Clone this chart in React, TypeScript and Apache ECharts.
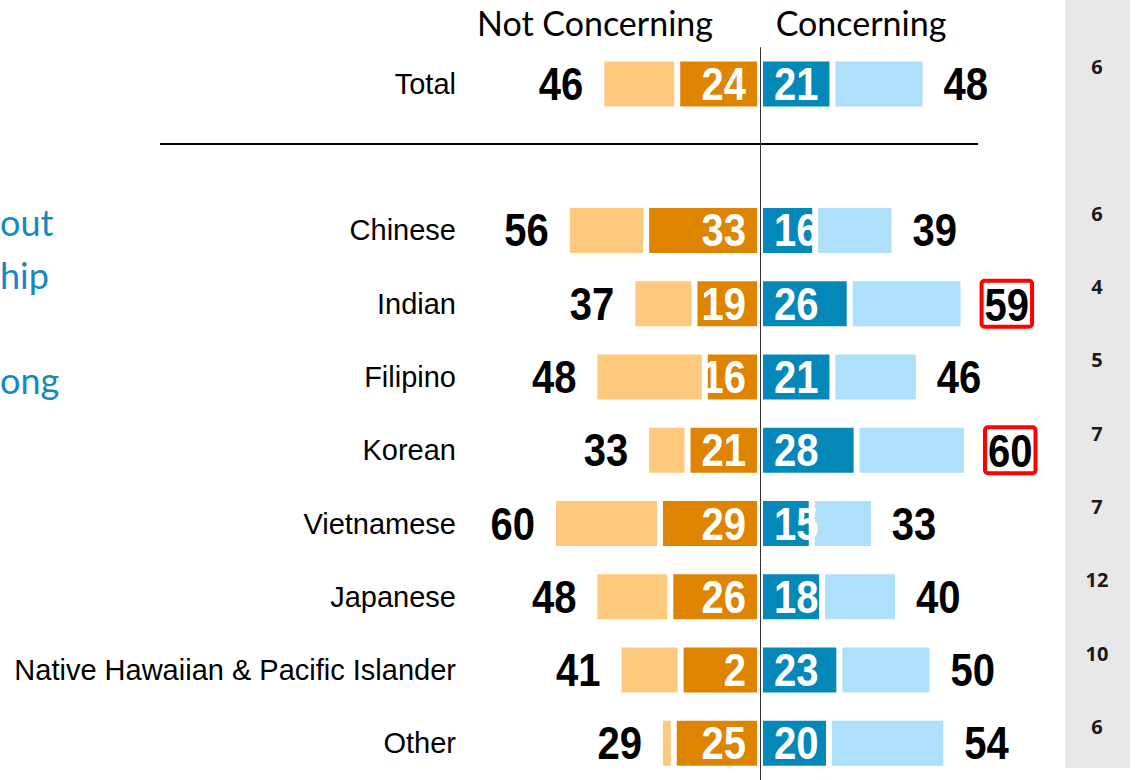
import React, { useEffect, useRef } from 'react';
import * as echarts from 'echarts';

const categories = ['Total', '', 'Chinese', 'Indian', 'Filipino', 'Korean', 'Vietnamese', 'Japanese', 'Native Hawaiian & Pacific Islander', 'Other'];
const notConcerningTotal = [46, null, 56, 37, 48, 33, 60, 48, 41, 29];
const notConcerningStrong = [24, null, 33, 19, 16, 21, 29, 26, 23, 25];
const notConcerningStrongLabels = ['24', '', '33', '19', '16', '21', '29', '26', '2', '25'];
const concerningStrong = [21, null, 16, 26, 21, 28, 15, 18, 23, 20];
const concerningTotal = [48, null, 39, 59, 46, 60, 33, 40, 50, 54];
const highlighted = [false, false, false, true, false, true, false, false, false, false];
const otherShare = ['6', '', '6', '4', '5', '7', '7', '12', '10', '6'];
const headers = ['Not Concerning', 'Concerning'];
const sideText = ['out', 'hip', 'ong'];

const NUM_SIZE = 46;
const NUM_FONT = `bold ${NUM_SIZE}px 'Liberation Sans', Arial, sans-serif`;
const NUM_SCALE = 0.87;
const CAT_FONT = "'Liberation Sans', Arial, sans-serif";
const SOFT_FONT = "Lato, 'Open Sans', sans-serif";

const C_LIGHT_OR = '#FEC97C';
const C_DARK_OR = '#DE8400';
const C_DARK_BL = '#0487B9';
const C_LIGHT_BL = '#AEDFFB';

export default function App() {
  const ref = useRef<HTMLDivElement>(null);

  useEffect(() => {
    if (!ref.current) return;
    const chart = echarts.init(ref.current, null, { renderer: 'svg' });

    const darkOr = notConcerningStrong.map((v) => (v == null ? null : -v));
    const lightOr = notConcerningTotal.map((t, i) => {
      const s = notConcerningStrong[i];
      return t == null || s == null ? null : -(t - s);
    });
    const darkBl = concerningStrong.map((v) => v);
    const lightBl = concerningTotal.map((t, i) => {
      const s = concerningStrong[i];
      return t == null || s == null ? null : t - s;
    });

    // rows for the label layer: [categoryIndex, notTotal, notStrong, conStrong, conTotal]
    const labelRows: number[][] = [];
    categories.forEach((_, i) => {
      if (notConcerningTotal[i] == null) return;
      labelRows.push([i, notConcerningTotal[i] as number, notConcerningStrong[i] as number, concerningStrong[i] as number, concerningTotal[i] as number]);
    });

    const numText = (x: number, y: number, text: string, align: string, fill: string) => ({
      type: 'text',
      x,
      y,
      scaleX: NUM_SCALE,
      style: { text, font: NUM_FONT, fill, align, verticalAlign: 'middle' },
    });

    const digitW = 0.556 * NUM_SIZE * NUM_SCALE;

    const renderLabels = (params: any, api: any) => {
      const i = api.value(0);
      const totN = api.value(1);
      const totC = api.value(4);
      const c0 = api.coord([0, i]);
      const cl = api.coord([-totN, i]);
      const cr = api.coord([totC, i]);
      const y = c0[1];
      const children: any[] = [];
      children.push(numText(cl[0] - 18, y, String(notConcerningTotal[i]), 'right', '#000'));
      children.push(numText(c0[0] - 14, y, notConcerningStrongLabels[i], 'right', '#fff'));
      children.push(numText(c0[0] + 14, y, String(concerningStrong[i]), 'left', '#fff'));
      const rt = String(concerningTotal[i]);
      if (highlighted[i]) {
        const tx = cr[0] + 21;
        const tw = digitW * rt.length;
        children.push({
          type: 'rect',
          shape: { x: tx - 3, y: y - 23, width: tw + 6, height: 46, r: 3 },
          style: { fill: '#fff', stroke: '#FF0000', lineWidth: 4 },
        });
        children.push(numText(tx, y + 1, rt, 'left', '#000'));
      } else {
        children.push(numText(cr[0] + 18, y, rt, 'left', '#000'));
      }
      children.push({
        type: 'text',
        x: 1097,
        y: y - 17,
        style: {
          text: otherShare[i],
          font: "bold 20px 'Open Sans', sans-serif",
          fill: '#1a1a1a',
          align: 'center',
          verticalAlign: 'middle',
        },
      });
      return { type: 'group', children };
    };

    const itemBorder = { borderColor: '#ffffff', borderWidth: 3 };

    const option: any = {
      animation: false,
      grid: { left: 518.5, width: 483, top: 47.25, height: 735 },
      xAxis: { type: 'value', min: -70, max: 70, show: false },
      yAxis: {
        type: 'category',
        data: categories,
        inverse: true,
        axisLine: { show: false },
        axisTick: { show: false },
        axisLabel: { margin: 62.5, fontSize: 29, color: '#000', fontFamily: CAT_FONT },
      },
      graphic: [
        { type: 'rect', z: -10, shape: { x: 1065, y: 0, width: 65, height: 768 }, style: { fill: '#E8E8E8' } },
        { type: 'line', shape: { x1: 160, y1: 144, x2: 978, y2: 144 }, style: { stroke: '#000', lineWidth: 2 } },
        { type: 'text', x: 595, y: 22, style: { text: headers[0], font: `34px ${SOFT_FONT}`, fill: '#000', textAlign: 'center', textVerticalAlign: 'middle' } },
        { type: 'text', x: 861, y: 22, style: { text: headers[1], font: `34px ${SOFT_FONT}`, fill: '#000', textAlign: 'center', textVerticalAlign: 'middle' } },
        { type: 'text', x: 0, y: 222, style: { text: sideText[0], font: `36px ${SOFT_FONT}`, fill: '#1689BD', textAlign: 'left', textVerticalAlign: 'middle' } },
        { type: 'text', x: 0, y: 275, style: { text: sideText[1], font: `36px ${SOFT_FONT}`, fill: '#1689BD', textAlign: 'left', textVerticalAlign: 'middle' } },
        { type: 'text', x: 0, y: 380, style: { text: sideText[2], font: `36px ${SOFT_FONT}`, fill: '#1689BD', textAlign: 'left', textVerticalAlign: 'middle' } },
      ],
      series: [
        {
          name: 'Not concerning (strong)',
          type: 'bar',
          stack: 'all',
          barWidth: 51,
          data: darkOr,
          itemStyle: { color: C_DARK_OR, ...itemBorder },
          markLine: {
            silent: true,
            symbol: ['none', 'none'],
            label: { show: false },
            lineStyle: { color: '#333', width: 1, type: 'solid' },
            data: [{ xAxis: 0 }],
          },
        },
        {
          name: 'Not concerning',
          type: 'bar',
          stack: 'all',
          barWidth: 51,
          data: lightOr,
          itemStyle: { color: C_LIGHT_OR, ...itemBorder },
        },
        {
          name: 'Concerning (strong)',
          type: 'bar',
          stack: 'all',
          barWidth: 51,
          data: darkBl,
          itemStyle: { color: C_DARK_BL, ...itemBorder },
        },
        {
          name: 'Concerning',
          type: 'bar',
          stack: 'all',
          barWidth: 51,
          data: lightBl,
          itemStyle: { color: C_LIGHT_BL, ...itemBorder },
        },
        {
          name: 'labels',
          type: 'custom',
          z: 5,
          silent: true,
          encode: { y: 0, x: [1, 4] },
          data: labelRows,
          renderItem: renderLabels,
        },
      ],
    };

    chart.setOption(option);
    return () => chart.dispose();
  }, []);

  return <div ref={ref} style={{ position: 'absolute', left: 0, top: 0, width: 1135, height: 780, background: '#fff' }} />;
}
